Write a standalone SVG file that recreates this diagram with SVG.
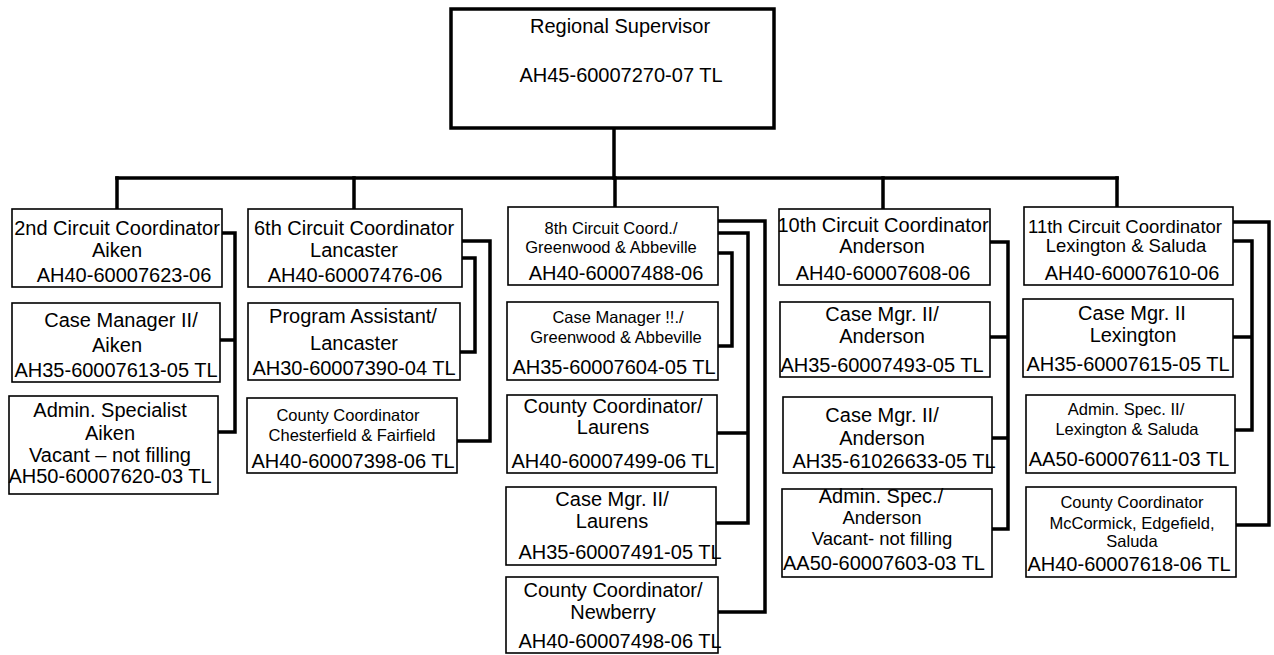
<svg xmlns="http://www.w3.org/2000/svg" width="1274" height="655" viewBox="0 0 1274 655">
<style>
.bg{fill:#fff}
.box{fill:#fff;stroke:#000;stroke-width:1.6}
.top{fill:#fff;stroke:#000;stroke-width:3.5}
.conn{fill:none;stroke:#000;stroke-width:3.5;stroke-linejoin:miter;stroke-linecap:square}
text{font-family:"Liberation Sans",Arial,sans-serif;font-size:20px;text-anchor:middle;fill:#000}
text.s{font-size:16.5px}
text.m{font-size:18.5px}
</style>
<rect class="bg" x="0" y="0" width="1274" height="655"/>
<g id="connectors">
<path class="conn" d="M614,128 V178"/>
<path class="conn" d="M117,178 H1117"/>
<path class="conn" d="M117,178 V209 M354,178 V209 M615,178 V207 M883,178 V209 M1117,178 V207"/>
<path class="conn" d="M222,233 H235 V432 H218 M220,340 H235"/>
<path class="conn" d="M462,241 H490 V441 H457 M462,258 H475 V352 H460"/>
<path class="conn" d="M718,221 H765 V612 H718 M718,233 H748 V523 H716 M717,433 H748 M718,253 H732 V346 H718"/>
<path class="conn" d="M990,242 H1008 V529 H992 M990,337 H1008 M992,438 H1008"/>
<path class="conn" d="M1233,222 H1269 V525 H1236 M1233,241 H1252 V430 H1235 M1233,337 H1252"/>
</g>
<g id="regional-supervisor">
<rect class="top" x="451" y="9" width="323" height="119"/>
<text x="620" y="33">Regional Supervisor</text>
<text x="621" y="82">AH45-60007270-07 TL</text>
</g>
<g id="a1">
<rect class="box" x="12" y="209" width="210" height="78"/>
<text x="117" y="235">2nd Circuit Coordinator</text>
<text x="117" y="257">Aiken</text>
<text x="124" y="282">AH40-60007623-06</text>
</g>
<g id="a2">
<rect class="box" x="12" y="303" width="208" height="79"/>
<text x="121" y="327">Case Manager II/</text>
<text x="117" y="352">Aiken</text>
<text x="116" y="377">AH35-60007613-05 TL</text>
</g>
<g id="a3">
<rect class="box" x="9" y="396" width="209" height="98"/>
<text x="110" y="417">Admin. Specialist</text>
<text x="110" y="440">Aiken</text>
<text x="110" y="462">Vacant – not filling</text>
<text x="110" y="483">AH50-60007620-03 TL</text>
</g>
<g id="b1">
<rect class="box" x="248" y="209" width="214" height="78"/>
<text x="354" y="235">6th Circuit Coordinator</text>
<text x="354" y="257">Lancaster</text>
<text x="355" y="282">AH40-60007476-06</text>
</g>
<g id="b2">
<rect class="box" x="248" y="303" width="212" height="77"/>
<text x="353" y="323">Program Assistant/</text>
<text x="354" y="350">Lancaster</text>
<text x="354" y="375">AH30-60007390-04 TL</text>
</g>
<g id="b3">
<rect class="box" x="247" y="398" width="210" height="75"/>
<text class="s" x="348" y="421">County Coordinator</text>
<text class="s" x="352" y="441">Chesterfield &amp; Fairfield</text>
<text x="353" y="468">AH40-60007398-06 TL</text>
</g>
<g id="c1">
<rect class="box" x="508" y="207" width="210" height="78"/>
<text class="s" x="611" y="234">8th Circuit Coord./</text>
<text class="s" x="611" y="253">Greenwood &amp; Abbeville</text>
<text x="616" y="280">AH40-60007488-06</text>
</g>
<g id="c2">
<rect class="box" x="507" y="302" width="211" height="78"/>
<text class="s" x="618" y="323">Case Manager !!./</text>
<text class="s" x="616" y="343">Greenwood &amp; Abbeville</text>
<text x="614" y="374">AH35-60007604-05 TL</text>
</g>
<g id="c3">
<rect class="box" x="507" y="395" width="210" height="78"/>
<text x="613" y="413">County Coordinator/</text>
<text x="613" y="434">Laurens</text>
<text x="613" y="468">AH40-60007499-06 TL</text>
</g>
<g id="c4">
<rect class="box" x="506" y="487" width="210" height="78"/>
<text x="612" y="506">Case Mgr. II/</text>
<text x="612" y="528">Laurens</text>
<text x="620" y="559">AH35-60007491-05 TL</text>
</g>
<g id="c5">
<rect class="box" x="506" y="577" width="212" height="76"/>
<text x="613" y="597">County Coordinator/</text>
<text x="613" y="619">Newberry</text>
<text x="620" y="648">AH40-60007498-06 TL</text>
</g>
<g id="d1">
<rect class="box" x="779" y="209" width="211" height="76"/>
<text x="883" y="232">10th Circuit Coordinator</text>
<text x="882" y="253">Anderson</text>
<text x="883" y="280">AH40-60007608-06</text>
</g>
<g id="d2">
<rect class="box" x="780" y="302" width="210" height="75"/>
<text x="882" y="321">Case Mgr. II/</text>
<text x="882" y="343">Anderson</text>
<text x="882" y="372">AH35-60007493-05 TL</text>
</g>
<g id="d3">
<rect class="box" x="783" y="397" width="209" height="76"/>
<text x="882" y="422">Case Mgr. II/</text>
<text x="882" y="445">Anderson</text>
<text x="894" y="468">AH35-61026633-05 TL</text>
</g>
<g id="d4">
<rect class="box" x="782" y="489" width="210" height="88"/>
<text x="881" y="503">Admin. Spec./</text>
<text class="m" x="882" y="524">Anderson</text>
<text class="m" x="882" y="545">Vacant- not filling</text>
<text x="884" y="570">AA50-60007603-03 TL</text>
</g>
<g id="e1">
<rect class="box" x="1024" y="207" width="209" height="78"/>
<text class="m" x="1125" y="233">11th Circuit Coordinator</text>
<text class="m" x="1126" y="252">Lexington &amp; Saluda</text>
<text x="1132" y="280">AH40-60007610-06</text>
</g>
<g id="e2">
<rect class="box" x="1023" y="299" width="210" height="78"/>
<text x="1132" y="320">Case Mgr. II</text>
<text x="1133" y="342">Lexington</text>
<text x="1128" y="371">AH35-60007615-05 TL</text>
</g>
<g id="e3">
<rect class="box" x="1026" y="395" width="209" height="78"/>
<text class="s" x="1126" y="415">Admin. Spec. II/</text>
<text class="s" x="1127" y="435">Lexington &amp; Saluda</text>
<text x="1129" y="466">AA50-60007611-03 TL</text>
</g>
<g id="e4">
<rect class="box" x="1026" y="487" width="210" height="90"/>
<text class="s" x="1132" y="508">County Coordinator</text>
<text class="s" x="1132" y="529">McCormick, Edgefield,</text>
<text class="s" x="1132" y="547">Saluda</text>
<text x="1129" y="571">AH40-60007618-06 TL</text>
</g>
</svg>
